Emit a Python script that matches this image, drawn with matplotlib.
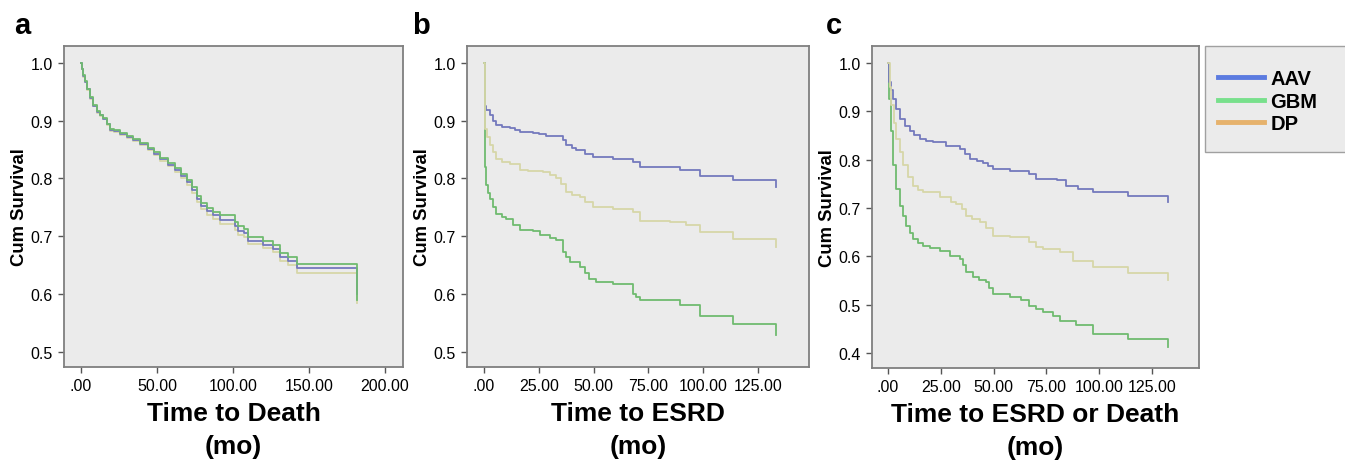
import matplotlib.pyplot as plt
from matplotlib.lines import Line2D
from matplotlib.patches import Rectangle

plt.rcParams['font.family'] = ['Liberation Sans', 'DejaVu Sans']

# ================================
# Dados
# ================================
GROUPS = ['AAV', 'GBM', 'DP']

# painel a - tempo ate obito
a_t = [0, 0.5, 1.5, 2.6, 4, 5.9, 8, 10.3, 12.5, 14.7, 17, 19, 22, 25.7, 30, 34.4, 39, 44.3, 48,
       52, 57, 61.8, 66, 69.5, 73, 76, 79, 82.7, 87, 91.4, 101.3, 103.5, 107, 110, 120, 126.5,
       131, 136, 142, 181.4]
a_gbm = [1.0, 0.99, 0.978, 0.968, 0.955, 0.94, 0.927, 0.916, 0.91, 0.904, 0.895, 0.885, 0.883,
         0.879, 0.874, 0.869, 0.862, 0.853, 0.845, 0.836, 0.827, 0.818, 0.808, 0.798, 0.785,
         0.769, 0.758, 0.749, 0.742, 0.736, 0.725, 0.717, 0.712, 0.699, 0.692, 0.685, 0.671,
         0.665, 0.652, 0.590]
a_aav = [1.0, 0.99, 0.977, 0.967, 0.954, 0.939, 0.926, 0.915, 0.909, 0.903, 0.894, 0.884, 0.882,
         0.877, 0.872, 0.867, 0.860, 0.851, 0.842, 0.833, 0.824, 0.815, 0.804, 0.794, 0.780,
         0.764, 0.753, 0.743, 0.736, 0.729, 0.718, 0.710, 0.705, 0.692, 0.685, 0.678, 0.664,
         0.658, 0.645, 0.600]
a_dp = [1.0, 0.99, 0.976, 0.966, 0.953, 0.938, 0.925, 0.914, 0.908, 0.902, 0.893, 0.882, 0.880,
        0.875, 0.870, 0.865, 0.858, 0.849, 0.840, 0.830, 0.821, 0.811, 0.800, 0.789, 0.775,
        0.759, 0.747, 0.737, 0.730, 0.722, 0.711, 0.703, 0.698, 0.686, 0.679, 0.672, 0.658,
        0.651, 0.637, 0.585]

# painel b - tempo ate ESRD
b_t_aav = [0, 0.3, 1, 2.5, 4, 5.6, 8, 11.7, 14, 16.3, 22.4, 25, 28.4, 36, 37.6, 40, 42, 46, 49.7,
           58.8, 68, 71, 89.3, 98.4, 113.6, 133.4]
b_aav = [1.0, 0.925, 0.918, 0.910, 0.900, 0.892, 0.889, 0.887, 0.883, 0.880, 0.878, 0.876, 0.873,
         0.866, 0.857, 0.853, 0.849, 0.843, 0.837, 0.834, 0.828, 0.820, 0.815, 0.805, 0.798, 0.786]
b_t_gbm = [0, 0.3, 0.6, 1, 1.8, 2.6, 4, 5.6, 8, 10.2, 13.2, 16.3, 22.4, 25.4, 30, 33, 36, 37.5, 39,
           43.6, 46, 48, 51.2, 58.8, 68, 69.5, 71, 89.3, 98.4, 113.6, 133.4]
b_gbm = [1.0, 0.88, 0.82, 0.788, 0.775, 0.765, 0.750, 0.739, 0.734, 0.730, 0.719, 0.711, 0.710,
         0.702, 0.697, 0.693, 0.673, 0.665, 0.655, 0.647, 0.637, 0.627, 0.621, 0.618, 0.601, 0.595,
         0.589, 0.582, 0.562, 0.549, 0.529]
b_t_dp = [0, 0.3, 1.2, 2.6, 4, 5.6, 8, 11.7, 16.3, 20, 27, 30, 33, 35, 37.6, 40, 43.6, 46, 49.7,
          58.8, 68, 71, 85, 92, 98.4, 113.6, 133.4]
b_dp = [1.0, 0.885, 0.872, 0.857, 0.845, 0.834, 0.829, 0.825, 0.815, 0.813, 0.811, 0.806, 0.800,
        0.790, 0.777, 0.772, 0.768, 0.760, 0.751, 0.748, 0.742, 0.727, 0.724, 0.719, 0.707, 0.696,
        0.681]

# painel c - tempo ate ESRD ou obito
c_t_aav = [0, 0.5, 1.2, 2.4, 4, 5.5, 8, 10.3, 12.5, 15, 18, 21.3, 27.6, 34, 36.5, 38.7, 42, 45,
           47.5, 49.7, 57.6, 67, 70, 80, 84.4, 90, 97, 113.6, 132.6]
c_aav = [1.0, 0.96, 0.945, 0.926, 0.905, 0.884, 0.870, 0.860, 0.850, 0.843, 0.838, 0.836, 0.829,
         0.822, 0.812, 0.801, 0.797, 0.794, 0.787, 0.781, 0.777, 0.770, 0.760, 0.757, 0.746, 0.740,
         0.732, 0.724, 0.712]
c_t_gbm = [0, 0.5, 1.2, 2.4, 4, 5.5, 7, 8.7, 10.2, 11.8, 14, 16.6, 20, 24.5, 29.2, 34, 35.5, 37,
           40.2, 43, 46.6, 48, 49.7, 57.6, 63, 67, 70, 73.4, 78, 81.3, 89.2, 97, 113.6, 132.6]
c_gbm = [1.0, 0.926, 0.86, 0.788, 0.74, 0.705, 0.683, 0.663, 0.648, 0.636, 0.628, 0.622, 0.617,
         0.612, 0.601, 0.594, 0.582, 0.567, 0.557, 0.552, 0.546, 0.535, 0.522, 0.515, 0.510, 0.498,
         0.490, 0.484, 0.477, 0.467, 0.457, 0.439, 0.429, 0.412]
c_t_dp = [0, 0.8, 1.6, 2.8, 4, 5.5, 7.1, 9.5, 11.8, 14, 16.6, 24.5, 30, 32.4, 35, 37, 40, 43.4, 46.5,
          49.7, 57.6, 67, 70, 73.4, 81.3, 87.6, 97, 113.6, 132.6]
c_dp = [1.0, 0.95, 0.912, 0.875, 0.843, 0.815, 0.788, 0.765, 0.746, 0.738, 0.732, 0.722, 0.712,
        0.708, 0.698, 0.684, 0.677, 0.670, 0.658, 0.643, 0.639, 0.629, 0.620, 0.615, 0.608, 0.591,
        0.577, 0.566, 0.550]

# ================================
# Estilo
# ================================
BG = '#ebebeb'
EDGE = '#7f7f7f'
LINE_COLORS = {'AAV': '#7479bd', 'GBM': '#6fbb6f', 'DP': '#d6d6a8'}
LEGEND_COLORS = {'AAV': '#5b7be0', 'GBM': '#78e08c', 'DP': '#e6b26c'}
W, H = 1345, 464


def style_axes(ax, xlim, ylim, xticks, xticklabels, yticks, xlabel):
    ax.set_facecolor(BG)
    for sp in ax.spines.values():
        sp.set_color(EDGE)
        sp.set_linewidth(1.3)
    ax.set_xlim(*xlim)
    ax.set_ylim(*ylim)
    ax.set_xticks(xticks)
    ax.set_xticklabels(xticklabels)
    ax.set_yticks(yticks)
    ax.set_yticklabels([f'{v:.1f}' for v in yticks])
    ax.tick_params(axis='both', labelsize=11.5, length=4, color='#555555', width=1, pad=4)
    ax.set_ylabel('Cum Survival', fontsize=13.3, fontweight='bold', labelpad=2)
    ax.set_xlabel(xlabel + '\n(mo)', fontsize=19, fontweight='bold', labelpad=6, linespacing=1.45)


def km(ax, t, s, key):
    ax.plot(t, s, drawstyle='steps-post', color=LINE_COLORS[key], lw=1.3)


fig = plt.figure(figsize=(W / 100, H / 100), dpi=100)

ax_a = fig.add_axes([64 / W, 1 - 368 / H, 339 / W, 321 / H])
ax_b = fig.add_axes([467 / W, 1 - 368 / H, 342 / W, 321 / H])
ax_c = fig.add_axes([872 / W, 1 - 369 / H, 327 / W, 322 / H])

km(ax_a, a_t, a_dp, 'DP')
km(ax_a, a_t, a_aav, 'AAV')
km(ax_a, a_t, a_gbm, 'GBM')
style_axes(ax_a, (-11.2, 211.8), (0.474, 1.029), [0, 50, 100, 150, 200],
           ['.00', '50.00', '100.00', '150.00', '200.00'], [0.5, 0.6, 0.7, 0.8, 0.9, 1.0],
           'Time to Death')

km(ax_b, b_t_aav, b_aav, 'AAV')
km(ax_b, b_t_gbm, b_gbm, 'GBM')
km(ax_b, b_t_dp, b_dp, 'DP')
xt = [0, 25, 50, 75, 100, 125]
xtl = ['.00', '25.00', '50.00', '75.00', '100.00', '125.00']
style_axes(ax_b, (-7.8, 148.3), (0.474, 1.029), xt, xtl, [0.5, 0.6, 0.7, 0.8, 0.9, 1.0],
           'Time to ESRD')

km(ax_c, c_t_gbm, c_gbm, 'GBM')
km(ax_c, c_t_aav, c_aav, 'AAV')
km(ax_c, c_t_dp, c_dp, 'DP')
style_axes(ax_c, (-7.6, 147.3), (0.369, 1.035), xt, xtl, [0.4, 0.5, 0.6, 0.7, 0.8, 0.9, 1.0],
           'Time to ESRD or Death')

# letras dos paineis
for letter, x in [('a', 14), ('b', 412), ('c', 826)]:
    fig.text(x / W, 1 - 34 / H, letter, fontsize=21, fontweight='bold', ha='left', va='baseline')

# legenda (caixa cortada na borda direita, como no original)
fig.patches.append(Rectangle((1205 / W, 1 - 153 / H), 160 / W, 106 / H, transform=fig.transFigure,
                             facecolor=BG, edgecolor='#a0a0a0', lw=1.0, zorder=0))
handles = [Line2D([], [], color=LEGEND_COLORS[g], lw=3.5) for g in GROUPS]
leg = fig.legend(handles, GROUPS, loc='upper left', bbox_to_anchor=(1208 / W, 1 - 60 / H),
                 frameon=False, handlelength=2.3, handletextpad=0.3, labelspacing=0.18,
                 borderpad=0, prop={'weight': 'bold', 'size': 14.5})

fig.savefig('out.png', dpi=100)
